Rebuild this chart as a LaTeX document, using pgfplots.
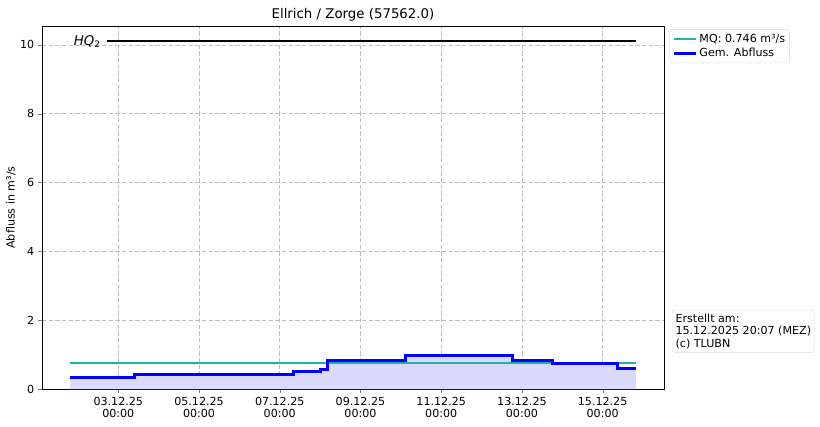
\documentclass[border=0pt]{standalone}
\usepackage{pgfplots}
\pgfplotsset{compat=1.18}
\usepackage{fontspec}
\setmainfont{DejaVu Sans}
\definecolor{mqcol}{RGB}{32,178,170}
\definecolor{fillcol}{RGB}{217,217,252}
\definecolor{gridcol}{RGB}{190,190,190}
\begin{document}
\fontsize{10pt}{12pt}\selectfont
\begin{tikzpicture}
\useasboundingbox (0,0) rectangle (738pt,383.4pt);
\begin{axis}[
  at={(37.8pt,33.3pt)}, anchor=south west,
  scale only axis, width=559.8pt, height=326.7pt,
  xmin=0.11, xmax=15.52, ymin=0, ymax=10.55,
  xtick={2,4,6,8,10,12,14},
  xticklabels={{03.12.25\\00:00},{05.12.25\\00:00},{07.12.25\\00:00},{09.12.25\\00:00},{11.12.25\\00:00},{13.12.25\\00:00},{15.12.25\\00:00}},
  xticklabel style={align=center, font=\fontsize{10pt}{11pt}\selectfont},
  yticklabel style={font=\fontsize{10pt}{11pt}\selectfont},
  ytick={0,2,4,6,8,10},
  /pgf/number format/assume math mode=true,
  tick align=outside, tick pos=left,
  major tick length=3.5pt,
  axis line style={black, line width=0.8pt},
  grid=major,
  major grid style={gridcol, line width=0.7pt, dash pattern=on 4pt off 2pt},
  title={Ellrich / Zorge (57562.0)},
  title style={font=\fontsize{12pt}{14pt}\selectfont, yshift=-5pt},
  ylabel={Abfluss in m³/s},
  ylabel style={font=\fontsize{10pt}{12pt}\selectfont, yshift=-3pt},
  legend style={at={(1,1)}, anchor=north west, xshift=5pt, yshift=-3pt,
    draw=gray!30, rounded corners=2pt, font=\fontsize{10pt}{12pt}\selectfont,
    row sep=0pt, inner sep=2pt},
  legend cell align=left,
  legend image code/.code={\draw[#1] (0pt,0pt) -- (20pt,0pt);},
  clip=false,
]
\addplot[fill=fillcol, draw=none, const plot, forget plot] coordinates {
(0.81,0.33) (2.41,0.43) (6.33,0.50) (7.01,0.57) (7.18,0.83) (9.12,0.97) (11.77,0.83) (12.76,0.73) (14.36,0.60) (14.82,0.60)
} \closedcycle;
\addplot[black, line width=1.8pt, forget plot] coordinates {(1.72,10.1) (14.82,10.1)};
\addplot[mqcol, line width=1.8pt] coordinates {(0.81,0.746) (14.82,0.746)};
\addlegendentry{MQ: 0.746 m³/s}
\addplot[blue, line width=2.7pt, const plot] coordinates {
(0.81,0.33) (2.41,0.43) (6.33,0.50) (7.01,0.57) (7.18,0.83) (9.12,0.97) (11.77,0.83) (12.76,0.73) (14.36,0.60) (14.82,0.60)
};
\addlegendentry{Gem. Abfluss}
\node[anchor=west, font=\fontsize{12pt}{14pt}\selectfont] at (axis cs:0.8,10.1) {\textit{HQ}\textsubscript{2}};
\end{axis}
\node[anchor=north west, draw=gray!30, rounded corners=2pt, align=left, inner sep=3pt,
  font=\fontsize{10pt}{11.5pt}\selectfont] at (604.8pt,104.4pt) {Erstellt am:\\15.12.2025 20:07 (MEZ)\\(c) TLUBN};
\end{tikzpicture}
\end{document}
